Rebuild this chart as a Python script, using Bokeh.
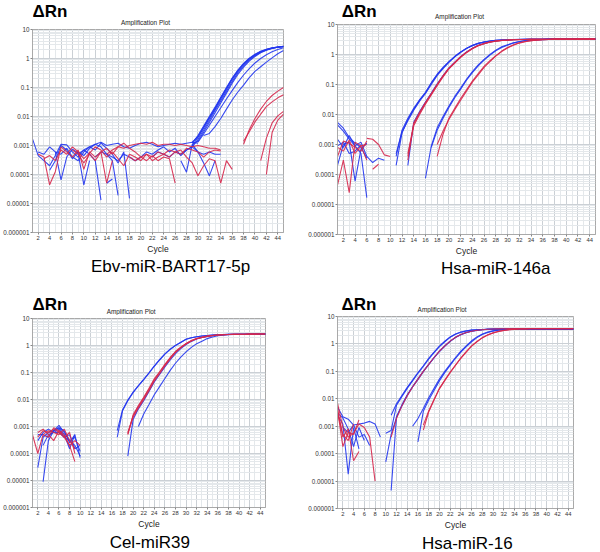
from bokeh.plotting import figure
from bokeh.models import FixedTicker, Label, Range1d
from bokeh.layouts import column, row
from bokeh.embed import file_html
from bokeh.resources import INLINE

# ---------------- axis data ----------------
cycle_ticks = list(range(2, 45, 2))
cycle_minor = list(range(1, 46))
decades = [1e-6, 1e-5, 1e-4, 1e-3, 1e-2, 1e-1, 1, 10]
decade_labels = ["0.000001", "0.00001", "0.0001", "0.001", "0.01", "0.1", "1", "10"]
decade_minor = [k * 10.0 ** e for e in range(-6, 1) for k in range(2, 10)]

# ---------------- Ebv-miR-BART17-5p ----------------
ebv_blue_start = [1, 4, 2, 5, 9, 12, 22, 27, 14, 29, 29, 29, 29, 29, 30, 31]
ebv_blue_vals = [
    [0.0017, 0.00045, 0.0003, 0.0002, 0.00045, 0.0011, 0.00105, 0.0006, 0.0004, 0.0007, 0.0005, 0.0003, 0.000013],
    [0.00014, 0.0003, 0.001, 0.0007, 0.00035, 0.0006, 0.00045, 0.0008, 0.0011, 0.0009, 0.0005, 0.0003, 0.000019],
    [0.0006, 0.0005, 0.0009, 0.0006, 0.000065, 0.0004, 0.00075, 0.00055, 0.000044, 0.0003],
    [0.0006, 0.0005, 0.0008, 0.0004, 0.0003, 0.0006, 0.0009, 0.0007, 0.0012, 0.0008, 0.0005, 0.00025, 0.0006, 0.000015],
    [0.0005, 0.0007, 0.0009, 0.0011, 0.0013, 0.001, 0.0011, 0.0012, 0.0009, 0.0008, 0.001, 0.0012, 0.0013, 0.0011, 0.0009, 0.001, 0.0011, 0.0012, 0.0011, 0.0012, 0.0013, 0.0012],
    [0.0004, 0.0006, 0.0005, 0.0004, 0.0003, 0.0005, 0.0004, 0.0003, 0.0004, 0.0006, 0.0005, 0.0007, 0.0009, 0.0006, 0.0008, 0.00045, 0.0007, 0.0009],
    [0.0004, 0.0006, 0.0005, 0.0004, 0.0006, 0.0005, 0.0007, 0.0009, 0.0006, 0.0005, 0.0006, 0.0005, 0.0005],
    [0.0003, 0.00012, 0.0011, 0.0006, 0.00025, 0.00009, 0.0003],
    [0.00005, 0.00007],
    [0.0012, 0.0022, 0.0047, 0.0100, 0.021, 0.046, 0.10, 0.21, 0.40, 0.68, 1.02, 1.40, 1.78, 2.08, 2.32, 2.50, 2.62],
    [0.0010, 0.0019, 0.0040, 0.0086, 0.018, 0.040, 0.088, 0.19, 0.36, 0.62, 0.95, 1.32, 1.70, 2.02, 2.28, 2.47, 2.60],
    [0.0009, 0.0016, 0.0034, 0.0073, 0.016, 0.034, 0.075, 0.16, 0.32, 0.56, 0.88, 1.25, 1.64, 1.98, 2.25, 2.45, 2.58],
    [0.0011, 0.0014, 0.0029, 0.0062, 0.0135, 0.029, 0.064, 0.14, 0.28, 0.50, 0.81, 1.18, 1.58, 1.93, 2.22, 2.43, 2.57],
    [0.0013, 0.0020, 0.0043, 0.0092, 0.019, 0.043, 0.094, 0.20, 0.38, 0.65, 0.98, 1.36, 1.74, 2.05, 2.30, 2.48, 2.61],
    [0.0013, 0.0025, 0.005, 0.0100, 0.020, 0.040, 0.078, 0.15, 0.27, 0.45, 0.70, 1.0, 1.35, 1.7, 2.05, 2.35],
    [0.0022, 0.0026, 0.0045, 0.0085, 0.018, 0.037, 0.07, 0.12, 0.22, 0.36, 0.52, 0.75, 1.05, 1.45, 1.9],
]
ebv_red_start = [2, 3, 8, 14, 18, 20, 38, 38, 41, 42]
ebv_red_vals = [
    [0.0005, 0.0004, 0.000044, 0.000125, 0.0009, 0.0006, 0.0004, 0.0007, 0.00015, 0.0006, 0.0004, 0.0006, 0.00005, 0.0003],
    [0.00035, 0.00045, 0.0003, 0.0007, 0.0005, 0.0009, 0.0006, 0.00035, 0.00055, 0.0009, 0.0007, 0.0004, 0.0006, 0.00035, 0.0002, 0.0005, 0.0004, 0.0003],
    [0.0007, 0.0005, 0.00025, 0.0005, 0.0003, 0.0006, 0.0008, 0.0005, 0.0009, 0.0012, 0.0008, 0.0006, 0.0004, 0.0003, 0.00045, 0.0003, 0.0004, 0.00035, 0.00005],
    [0.0005, 0.0007, 0.0009, 0.0008, 0.001, 0.0011, 0.0012, 0.0011, 0.0013, 0.001, 0.0011, 0.0011, 0.001, 0.0011, 0.001, 0.0009, 0.001, 0.0009, 0.0008, 0.0008, 0.0007],
    [0.0004, 0.0003, 0.0004, 0.0005, 0.0003, 0.0004, 0.0005, 0.0004, 0.0006, 0.0007, 0.0004, 0.00025, 0.00009, 0.0002, 0.00035, 0.0003, 0.00005, 0.0003, 0.00015],
    [0.0003, 0.0005, 0.0004, 0.0006, 0.0005, 0.0007, 0.0006, 0.0005, 0.0008, 0.0007, 0.0006, 0.0004, 0.0006, 0.0007, 0.00065],
    [0.0011, 0.0035, 0.0085, 0.018, 0.033, 0.053, 0.075, 0.1],
    [0.0014, 0.003, 0.0065, 0.012, 0.022, 0.032, 0.044, 0.056],
    [0.0003, 0.0018, 0.006, 0.0105, 0.015],
    [0.0001, 0.0028, 0.0075, 0.012],
]

# ---------------- Hsa-miR-146a ----------------
m146_blue_start = [1, 1, 1, 1, 1, 11, 11, 11, 13, 16, 17]
m146_blue_vals = [
    [0.0055, 0.0035, 0.0017, 0.0011, 0.0008, 0.00035],
    [0.0045, 0.0028, 0.0015, 0.0009, 0.0012, 0.0004, 0.00025, 0.00035, 0.0003],
    [0.0015, 0.0008, 0.002, 0.0009, 0.0005, 0.000017],
    [0.0002, 0.001, 0.0012, 0.00006, 0.0007, 0.0011],
    [0.0009, 0.0012, 0.0005, 0.0006, 0.001],
    [0.0002, 0.0024, 0.0068, 0.015, 0.030, 0.052, 0.11, 0.21, 0.36, 0.57, 0.85, 1.2, 1.6, 2.0, 2.35, 2.6, 2.8, 2.95, 3.05, 3.1, 3.15, 3.18, 3.2, 3.22, 3.23, 3.24, 3.25, 3.25, 3.25, 3.26, 3.26, 3.26, 3.26, 3.26, 3.26],
    [0.0004, 0.0030, 0.0075, 0.016, 0.031, 0.055, 0.115, 0.22, 0.37, 0.58, 0.87, 1.22, 1.62, 2.02, 2.37, 2.62, 2.82, 2.96, 3.06, 3.12, 3.16, 3.19, 3.21, 3.22, 3.23, 3.24, 3.25, 3.25, 3.25, 3.26, 3.26, 3.26, 3.26, 3.26, 3.26],
    [0.0005, 0.0026, 0.0062, 0.014, 0.028, 0.05, 0.1, 0.2, 0.34, 0.55, 0.83, 1.17, 1.57, 1.97, 2.33, 2.58, 2.78, 2.94, 3.04, 3.1, 3.15, 3.18, 3.2, 3.22, 3.23, 3.24, 3.25, 3.25, 3.25, 3.26, 3.26, 3.26, 3.26, 3.26, 3.26],
    [0.0002, 0.0055, 0.0125, 0.026, 0.052, 0.105, 0.2, 0.36, 0.56, 0.85, 1.22, 1.62, 2.02, 2.32, 2.62, 2.82, 2.96, 3.02, 3.1, 3.15, 3.18, 3.2, 3.22, 3.23, 3.24, 3.25, 3.25, 3.26, 3.26, 3.26, 3.26, 3.26, 3.26],
    [0.000075, 0.0009, 0.0036, 0.0085, 0.019, 0.04, 0.076, 0.15, 0.27, 0.45, 0.69, 1.0, 1.4, 1.8, 2.1, 2.45, 2.7, 2.9, 3.0, 3.1, 3.15, 3.2, 3.22, 3.23, 3.24, 3.25, 3.25, 3.26, 3.26, 3.26],
    [0.0008, 0.003, 0.0075, 0.017, 0.036, 0.07, 0.14, 0.25, 0.42, 0.65, 0.95, 1.33, 1.72, 2.05, 2.4, 2.66, 2.87, 2.98, 3.08, 3.14, 3.19, 3.21, 3.23, 3.24, 3.25, 3.25, 3.26, 3.26, 3.26],
]
m146_red_start = [1, 1, 1, 6, 7, 13, 13, 13, 18, 18]
m146_red_vals = [
    [0.000044, 0.0003, 0.000025, 0.0012, 0.0009, 0.001],
    [0.0004, 0.0013, 0.0011, 0.0008, 0.0006, 0.0013],
    [0.0008, 0.0006, 0.0014, 0.0005, 0.0009, 0.0003],
    [0.0016, 0.0015, 0.001, 0.00045, 0.0004],
    [0.00015, 0.00022],
    [0.0003, 0.0048, 0.011, 0.024, 0.048, 0.098, 0.19, 0.34, 0.54, 0.82, 1.18, 1.58, 1.98, 2.3, 2.6, 2.8, 2.95, 3.02, 3.1, 3.15, 3.18, 3.2, 3.22, 3.23, 3.24, 3.25, 3.25, 3.26, 3.26, 3.26, 3.26, 3.26, 3.26],
    [0.0005, 0.0042, 0.010, 0.022, 0.045, 0.092, 0.18, 0.33, 0.52, 0.8, 1.15, 1.55, 1.95, 2.28, 2.58, 2.78, 2.93, 3.01, 3.09, 3.14, 3.18, 3.2, 3.22, 3.23, 3.24, 3.25, 3.25, 3.26, 3.26, 3.26, 3.26, 3.26, 3.26],
    [0.0004, 0.0052, 0.0118, 0.025, 0.05, 0.1, 0.195, 0.35, 0.55, 0.84, 1.2, 1.6, 2.0, 2.31, 2.61, 2.81, 2.95, 3.02, 3.1, 3.15, 3.18, 3.2, 3.22, 3.23, 3.24, 3.25, 3.25, 3.26, 3.26, 3.26, 3.26, 3.26, 3.26],
    [0.0004, 0.0022, 0.0075, 0.016, 0.034, 0.066, 0.13, 0.23, 0.4, 0.62, 0.92, 1.3, 1.7, 2.1, 2.45, 2.7, 2.9, 3.0, 3.1, 3.15, 3.2, 3.22, 3.23, 3.24, 3.25, 3.25, 3.26, 3.26],
    [0.001, 0.0028, 0.0068, 0.0145, 0.03, 0.06, 0.12, 0.21, 0.37, 0.58, 0.88, 1.25, 1.65, 2.05, 2.4, 2.68, 2.88, 2.99, 3.09, 3.15, 3.19, 3.22, 3.23, 3.24, 3.25, 3.25, 3.26, 3.26],
]

# ---------------- Cel-miR39 ----------------
cel_blue_start = [2, 3, 2, 2, 3, 17, 17, 19, 21]
cel_blue_vals = [
    [0.00003, 0.0004, 0.0006, 0.0007, 0.0011, 0.0006, 0.0003, 0.0004, 0.00012],
    [0.000009, 0.0003, 0.0007, 0.0009, 0.0005, 0.00015, 0.0005, 0.00007],
    [0.0003, 0.0006, 0.0008, 0.0006, 0.0008, 0.0004, 0.0003, 0.0002, 0.00008],
    [0.0005, 0.0005, 0.0004, 0.0007, 0.0009, 0.0007, 0.00025, 0.0005],
    [0.0002, 0.0005, 0.0006, 0.0006, 0.0004, 0.0005, 0.00015, 0.0002],
    [0.0004, 0.0038, 0.009, 0.018, 0.032, 0.054, 0.095, 0.17, 0.29, 0.48, 0.72, 1.0, 1.3, 1.7, 1.95, 2.1, 2.25, 2.35, 2.45, 2.5, 2.55, 2.58, 2.6, 2.61, 2.62, 2.63, 2.63, 2.64, 2.64],
    [0.0007, 0.0041, 0.0095, 0.019, 0.033, 0.056, 0.098, 0.175, 0.3, 0.49, 0.73, 1.01, 1.31, 1.7, 1.95, 2.1, 2.25, 2.35, 2.45, 2.5, 2.55, 2.58, 2.6, 2.61, 2.62, 2.63, 2.63, 2.64, 2.64],
    [0.00008, 0.0018, 0.0045, 0.009, 0.02, 0.045, 0.085, 0.16, 0.29, 0.5, 0.77, 1.08, 1.42, 1.74, 1.97, 2.18, 2.33, 2.44, 2.5, 2.55, 2.58, 2.6, 2.62, 2.63, 2.64, 2.65, 2.65],
    [0.001, 0.0029, 0.0065, 0.015, 0.03, 0.06, 0.12, 0.22, 0.37, 0.58, 0.85, 1.17, 1.45, 1.8, 2.05, 2.3, 2.4, 2.5, 2.55, 2.6, 2.6, 2.62, 2.63, 2.64, 2.65],
]
cel_red_start = [1, 2, 2, 3, 19, 19, 19]
cel_red_vals = [
    [0.0005, 0.0001, 0.0005, 0.0007, 0.0006, 0.0005, 0.0008, 0.0003, 0.00015],
    [0.0004, 0.0007, 0.0006, 0.0008, 0.0006, 0.0004, 0.0002, 0.00005],
    [0.0006, 0.0008, 0.0005, 0.0003, 0.0007, 0.0005, 0.0002, 0.0003, 0.0002],
    [0.0005, 0.0004, 0.0009, 0.0007, 0.0004, 0.0006, 0.0001],
    [0.00054, 0.0025, 0.0055, 0.011, 0.024, 0.054, 0.10, 0.19, 0.34, 0.58, 0.85, 1.17, 1.5, 1.8, 2.0, 2.2, 2.35, 2.45, 2.5, 2.55, 2.58, 2.6, 2.62, 2.63, 2.64, 2.65, 2.65],
    [0.0006, 0.0022, 0.0049, 0.0098, 0.021, 0.048, 0.09, 0.175, 0.32, 0.55, 0.82, 1.13, 1.46, 1.77, 1.98, 2.18, 2.33, 2.44, 2.5, 2.55, 2.58, 2.6, 2.62, 2.63, 2.64, 2.65, 2.65],
    [0.0005, 0.0027, 0.006, 0.012, 0.026, 0.058, 0.107, 0.2, 0.36, 0.6, 0.87, 1.19, 1.52, 1.82, 2.02, 2.22, 2.36, 2.46, 2.51, 2.56, 2.59, 2.61, 2.62, 2.63, 2.64, 2.65, 2.65],
]

# ---------------- Hsa-miR-16 ----------------
m16_blue_start = [1, 1, 1, 2, 11, 10, 10, 11, 15, 16]
m16_blue_vals = [
    [0.005, 0.0022, 0.0018, 0.0011, 0.0012, 0.0013, 0.0015, 0.0012, 0.0004],
    [0.003, 0.002, 0.0008, 0.00018, 0.0009, 0.0003],
    [0.0025, 0.0012, 0.000018, 0.0009, 0.00015],
    [0.0009, 0.0006, 0.0011, 0.0004, 0.0005, 0.0002],
    [0.0025, 0.0066, 0.013, 0.026, 0.048, 0.09, 0.16, 0.3, 0.5, 0.83, 1.25, 1.8, 2.3, 2.7, 3.0, 3.2, 3.3, 3.35, 3.4, 3.42, 3.43, 3.44, 3.45, 3.45, 3.45, 3.46, 3.46, 3.46, 3.46, 3.46, 3.46, 3.46, 3.46, 3.46, 3.46],
    [0.00055, 0.0007, 0.0058, 0.012, 0.024, 0.045, 0.085, 0.15, 0.28, 0.48, 0.8, 1.2, 1.75, 2.25, 2.65, 2.97, 3.18, 3.29, 3.35, 3.4, 3.42, 3.43, 3.44, 3.45, 3.45, 3.45, 3.46, 3.46, 3.46, 3.46, 3.46, 3.46, 3.46, 3.46, 3.46, 3.46],
    [0.00005, 0.0005, 0.0021, 0.0055, 0.013, 0.027, 0.05, 0.098, 0.175, 0.31, 0.53, 0.83, 1.24, 1.72, 2.18, 2.58, 2.88, 3.12, 3.28, 3.4, 3.47, 3.52, 3.55, 3.57, 3.58, 3.58, 3.58, 3.58, 3.58, 3.58, 3.58, 3.58, 3.58, 3.58, 3.58, 3.58],
    [0.0000045, 0.0022, 0.006, 0.014, 0.028, 0.054, 0.1, 0.18, 0.32, 0.54, 0.84, 1.25, 1.74, 2.2, 2.6, 2.9, 3.15, 3.3, 3.42, 3.5, 3.54, 3.56, 3.57, 3.58, 3.58, 3.58, 3.58, 3.58, 3.58, 3.58, 3.58, 3.58, 3.58, 3.58, 3.58],
    [0.001, 0.0019, 0.0044, 0.011, 0.024, 0.052, 0.1, 0.18, 0.32, 0.55, 0.85, 1.3, 1.8, 2.3, 2.7, 3.0, 3.2, 3.3, 3.35, 3.4, 3.42, 3.43, 3.44, 3.45, 3.45, 3.45, 3.46, 3.46, 3.46, 3.46, 3.46],
    [0.00027, 0.0035, 0.009, 0.02, 0.045, 0.09, 0.165, 0.3, 0.5, 0.8, 1.2, 1.7, 2.2, 2.6, 2.95, 3.15, 3.28, 3.35, 3.4, 3.42, 3.43, 3.44, 3.45, 3.45, 3.45, 3.46, 3.46, 3.46, 3.46, 3.46],
]
m16_red_start = [1, 1, 1, 1, 11, 17, 17]
m16_red_vals = [
    [0.007, 0.0009, 0.0004, 0.00055, 0.0012, 0.0009, 0.0004, 0.00001],
    [0.0045, 0.0004, 0.0008, 0.000055, 0.00012],
    [0.004, 0.00018, 0.0006, 0.0005, 0.0017],
    [0.003, 0.0005, 0.0003, 0.0012],
    [0.0004, 0.0019, 0.0055, 0.013, 0.027, 0.052, 0.1, 0.18, 0.32, 0.55, 0.85, 1.26, 1.75, 2.2, 2.6, 2.9, 3.15, 3.3, 3.45, 3.5, 3.55, 3.58, 3.6, 3.6, 3.6, 3.6, 3.6, 3.6, 3.6, 3.6, 3.6, 3.6, 3.6, 3.6, 3.6],
    [0.00072, 0.0033, 0.009, 0.023, 0.046, 0.09, 0.165, 0.3, 0.5, 0.83, 1.2, 1.66, 2.1, 2.5, 2.85, 3.1, 3.3, 3.4, 3.5, 3.55, 3.58, 3.6, 3.6, 3.6, 3.6, 3.6, 3.6, 3.6, 3.6],
    [0.0011, 0.0036, 0.0095, 0.024, 0.048, 0.093, 0.17, 0.31, 0.52, 0.85, 1.23, 1.7, 2.14, 2.53, 2.87, 3.12, 3.32, 3.42, 3.5, 3.55, 3.58, 3.6, 3.6, 3.6, 3.6, 3.6, 3.6, 3.6, 3.6],
]

BLUE = "#2236ee"
RED = "#d6284c"
FONT = "Liberation Sans"
CELL_W = 300
TOP_PAD = 3       # space above frame inside the chart figure (for the "10" label)
BOTTOM_AXIS = 21  # space below frame for tick labels and "Cycle"


def blank(h):
    b = figure(width=CELL_W, height=h, x_range=Range1d(0, CELL_W), y_range=Range1d(0, h),
               x_axis_location=None, y_axis_location=None, output_backend="svg",
               toolbar_location=None, min_border=0, outline_line_color=None)
    b.grid.visible = False
    return b


def make_cell(name, bs, bv, rs, rv, cell_h, frame, header_pos, footer_pos):
    fl, fr, ft, fb = frame               # frame edges inside the cell (pixels)
    drn_x, drn_y, amp_x, amp_y = header_pos   # text centres, measured up from header bottom
    name_x, name_y = footer_pos                # text centre, measured up from footer bottom

    head_h = ft - TOP_PAD
    main_h = TOP_PAD + (fb - ft) + BOTTOM_AXIS
    foot_h = cell_h - head_h - main_h

    # header: "ΔRn" and "Amplification Plot"
    head = blank(head_h)
    head.add_layout(Label(x=drn_x, y=drn_y, text="ΔRn", text_font=FONT, text_font_size="17px",
                          text_font_style="bold", text_color="black",
                          text_align="left", text_baseline="middle"))
    head.add_layout(Label(x=amp_x, y=amp_y, text="Amplification Plot", text_font=FONT,
                          text_font_size="6.4px", text_color="#222222",
                          text_align="center", text_baseline="middle"))

    # chart
    p = figure(width=CELL_W, height=main_h, x_range=Range1d(1, 45), y_range=Range1d(1e-6, 10),
               y_axis_type="log", output_backend="svg", toolbar_location=None,
               min_border_left=fl, min_border_right=CELL_W - fr,
               min_border_top=TOP_PAD, min_border_bottom=BOTTOM_AXIS)
    p.outline_line_color = "#a9a9a9"

    xt = FixedTicker(ticks=cycle_ticks, minor_ticks=cycle_minor)
    yt = FixedTicker(ticks=decades, minor_ticks=decade_minor)
    p.xaxis.ticker = xt
    p.yaxis.ticker = yt
    p.xgrid.ticker = xt
    p.ygrid.ticker = yt
    p.yaxis.major_label_overrides = {v: s for v, s in zip(decades, decade_labels)}

    for g in (p.xgrid, p.ygrid):
        g.grid_line_color = "#cbd0d5"
        g.grid_line_width = 1
        g.minor_grid_line_color = "#e4e8eb"
        g.minor_grid_line_width = 1

    for ax in (p.xaxis, p.yaxis):
        ax.axis_line_color = "#a9a9a9"
        ax.major_tick_line_color = "#888888"
        ax.major_tick_out = 2
        ax.major_tick_in = 0
        ax.minor_tick_out = 0
        ax.minor_tick_in = 0
        ax.major_label_standoff = 1
        ax.major_label_text_font = FONT
        ax.major_label_text_color = "#333333"
    p.yaxis.major_label_text_font_size = "6.3px"
    p.xaxis.major_label_text_font_size = "5.8px"
    p.xaxis.axis_label = "Cycle"
    p.xaxis.axis_label_text_font = FONT
    p.xaxis.axis_label_text_font_size = "8.5px"
    p.xaxis.axis_label_text_font_style = "normal"
    p.xaxis.axis_label_text_color = "#222222"
    p.xaxis.axis_label_standoff = 1

    bxs = [list(range(s, s + len(v))) for s, v in zip(bs, bv)]
    rxs = [list(range(s, s + len(v))) for s, v in zip(rs, rv)]
    p.multi_line(bxs, bv, line_color=BLUE, line_width=1.1, line_alpha=0.9)
    p.multi_line(rxs, rv, line_color=RED, line_width=1.1, line_alpha=0.9)

    # footer: target name
    foot = blank(foot_h)
    foot.add_layout(Label(x=name_x, y=name_y, text=name, text_font=FONT, text_font_size="17px",
                          text_color="black", text_align="center", text_baseline="middle"))
    return column(head, p, foot)


c1 = make_cell("Ebv-miR-BART17-5p", ebv_blue_start, ebv_blue_vals, ebv_red_start, ebv_red_vals,
               280, (32, 283, 29, 235), (0, 15.0, 135, 4.3), (165, 14.0))
c2 = make_cell("Hsa-miR-146a", m146_blue_start, m146_blue_vals, m146_red_start, m146_red_vals,
               280, (37, 295, 24, 237), (5, 10.0, 142, 4.6), (184, 12.5))
c3 = make_cell("Cel-miR39", cel_blue_start, cel_blue_vals, cel_red_start, cel_red_vals,
               272, (32, 265, 38, 230), (0, 10.8, 127, 4.0), (151, 9.7))
c4 = make_cell("Hsa-miR-16", m16_blue_start, m16_blue_vals, m16_red_start, m16_red_vals,
               272, (37, 273, 36, 231), (5, 8.8, 133, 3.7), (165, 9.5))

layout = column(row(c1, c2), row(c3, c4))
open("out.html", "w").write(file_html(layout, INLINE))
